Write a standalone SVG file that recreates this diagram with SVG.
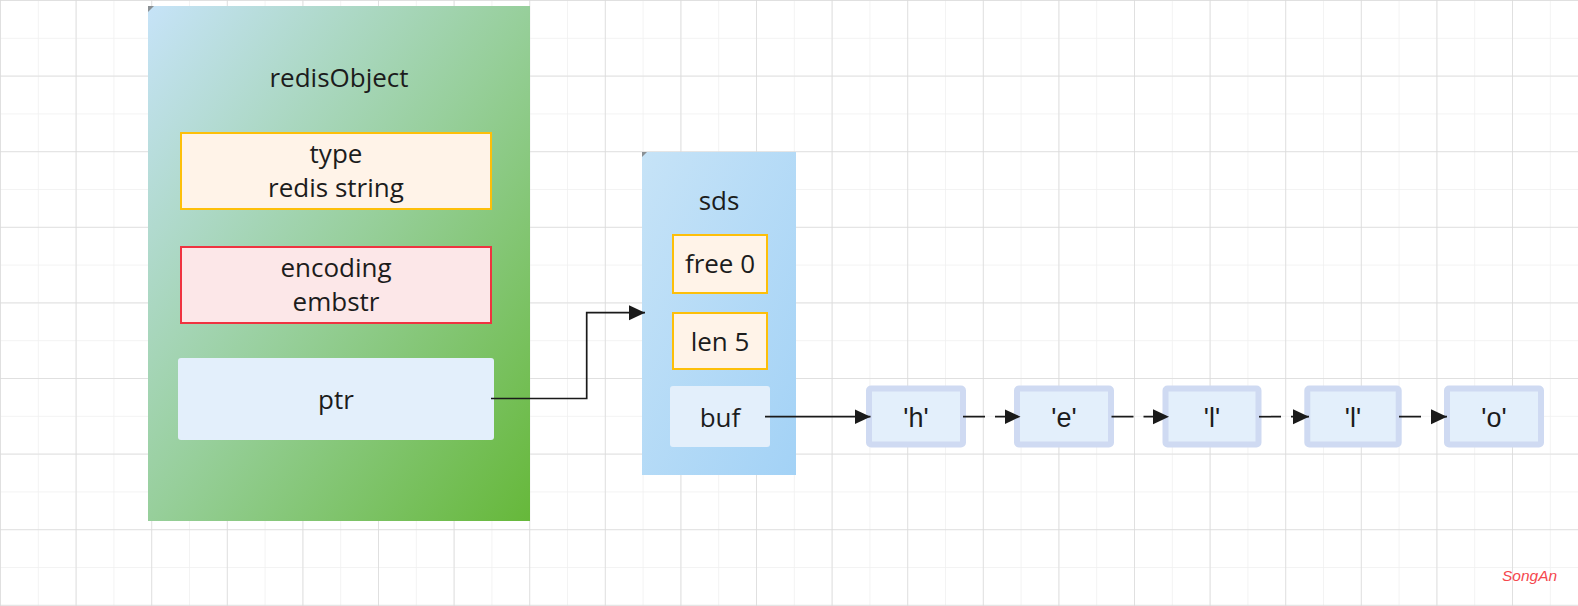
<svg xmlns="http://www.w3.org/2000/svg" width="1578" height="606" viewBox="0 0 1578 606">
  <defs>
    <pattern id="minor" width="37.8" height="37.8" patternUnits="userSpaceOnUse">
      <path d="M0,0 H37.8 M0,0 V37.8" fill="none" stroke="#efefef" stroke-width="1.5"/>
    </pattern>
    <pattern id="major" width="75.6" height="75.6" patternUnits="userSpaceOnUse">
      <path d="M0,0 H75.6 M0,0 V75.6" fill="none" stroke="#dadada" stroke-width="1.5"/>
    </pattern>
    <linearGradient id="gObj" x1="0" y1="0" x2="1" y2="1">
      <stop offset="0" stop-color="#c6e3f8"/>
      <stop offset="0.5" stop-color="#97cf9b"/>
      <stop offset="1" stop-color="#66b83a"/>
    </linearGradient>
    <linearGradient id="gSds" x1="0" y1="0" x2="1" y2="1">
      <stop offset="0" stop-color="#c6e3f7"/>
      <stop offset="1" stop-color="#a3d2f6"/>
    </linearGradient>
    <marker id="arr" markerUnits="userSpaceOnUse" markerWidth="17" markerHeight="17" refX="16" refY="8" orient="auto">
      <path d="M0,0.5 L16,8 L0,15.5 z" fill="#1a1a1a"/>
    </marker>
    <style>
      .t{font-family:"Open Sans","Noto Sans",sans-serif;font-size:26px;fill:#1c1c1c;text-anchor:middle}
      .c{font-family:"Liberation Sans",Arial,sans-serif;font-size:27px;fill:#1c1c1c;text-anchor:middle}
      .yel{fill:#fff3e8;stroke:#fdbf0a;stroke-width:2}
      .red{fill:#fce7e8;stroke:#ef3340;stroke-width:2}
      .blu{fill:#e3effb}
      .chr{fill:#e3effb;stroke:#cfdaf2;stroke-width:6}
      .ln{fill:none;stroke:#1a1a1a;stroke-width:1.7;marker-end:url(#arr)}
      .dash{stroke-dasharray:22 10}
      .fold{fill:#7a7a7a;opacity:0.8}
    </style>
  </defs>

  <rect width="1578" height="606" fill="#ffffff"/>
  <rect width="1578" height="606" fill="url(#minor)"/>
  <rect width="1578" height="606" fill="url(#major)"/>

  <g id="redisObject">
    <rect x="148" y="6" width="382" height="515" fill="url(#gObj)"/>
    <polygon class="fold" points="148,6 154,6 148,12"/>
    <text class="t" x="339" y="87">redisObject</text>
  </g>
  <g id="type">
    <rect class="yel" x="181" y="133" width="310" height="76"/>
    <text class="t" x="336" y="163">type</text>
    <text class="t" x="336" y="197">redis string</text>
  </g>
  <g id="encoding">
    <rect class="red" x="181" y="247" width="310" height="76"/>
    <text class="t" x="336" y="277">encoding</text>
    <text class="t" x="336" y="311">embstr</text>
  </g>
  <g id="ptr">
    <rect class="blu" x="178" y="358" width="316" height="82" rx="3"/>
    <text class="t" x="336" y="409">ptr</text>
  </g>

  <g id="sds">
    <rect x="642" y="152" width="154" height="323" fill="url(#gSds)"/>
    <polygon class="fold" points="642,152 647,152 642,157"/>
    <text class="t" x="719" y="210">sds</text>
  </g>
  <g id="free">
    <rect class="yel" x="673" y="235" width="94" height="58"/>
    <text class="t" x="720" y="273">free 0</text>
  </g>
  <g id="len">
    <rect class="yel" x="673" y="313" width="94" height="56"/>
    <text class="t" x="720" y="351">len 5</text>
  </g>
  <g id="buf">
    <rect class="blu" x="670" y="386" width="100" height="61" rx="3"/>
    <text class="t" x="720" y="427">buf</text>
  </g>

  <g id="ch-h">
    <rect class="chr" x="869" y="388.5" width="94" height="56" rx="2"/>
    <text class="c" x="916" y="427">'h'</text>
  </g>
  <g id="ch-e">
    <rect class="chr" x="1017" y="388.5" width="94" height="56" rx="2"/>
    <text class="c" x="1064" y="427">'e'</text>
  </g>
  <g id="ch-l1">
    <rect class="chr" x="1165.5" y="388.5" width="93" height="56" rx="2"/>
    <text class="c" x="1212" y="427">'l'</text>
  </g>
  <g id="ch-l2">
    <rect class="chr" x="1307.3" y="388.5" width="91.4" height="56" rx="2"/>
    <text class="c" x="1353" y="427">'l'</text>
  </g>
  <g id="ch-o">
    <rect class="chr" x="1447" y="388.5" width="94" height="56" rx="2"/>
    <text class="c" x="1494" y="427">'o'</text>
  </g>

  <g id="connectors">
    <path class="ln" d="M491,398.5 H586.7 V312.7 H645"/>
    <path class="ln" d="M765,416.7 H870.5"/>
    <path class="ln dash" d="M963,416.7 H1020.5"/>
    <path class="ln dash" d="M1111.5,416.7 H1169"/>
    <path class="ln dash" d="M1259,416.7 H1309"/>
    <path class="ln dash" d="M1399,416.7 H1447"/>
  </g>

  <text x="1502" y="581" font-family="Liberation Sans, Arial, sans-serif" font-size="15.5" font-style="italic" fill="#f5474d">SongAn</text>
</svg>
